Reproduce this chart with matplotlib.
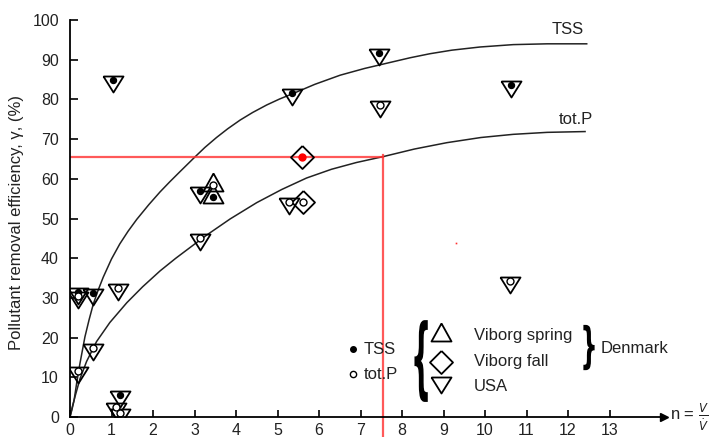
import matplotlib
matplotlib.use('Agg')
import matplotlib.pyplot as plt
from matplotlib.textpath import TextPath
from matplotlib.patches import PathPatch
from matplotlib.font_manager import FontProperties
from matplotlib.transforms import Affine2D

plt.rcParams['font.family'] = ['Liberation Sans', 'DejaVu Sans']

# curves
tss_curve_x = [0, 0.05, 0.1, 0.16, 0.24, 0.36, 0.46, 0.56, 0.68, 0.8, 1.0, 1.2, 1.4, 1.61,
               1.9, 2.17, 2.4, 2.65, 3.01, 3.25, 3.53, 3.8, 4.1, 4.4, 4.74, 5.05, 5.38, 5.9,
               6.51, 7.1, 7.71, 8.2, 8.67, 9.2, 9.88, 10.68, 11.5, 12.45]
tss_curve_y = [0, 2.0, 4.3, 8.5, 13.5, 20.2, 24.5, 28.4, 32.0, 35.2, 39.8, 43.6, 46.8, 49.8,
               53.5, 56.7, 59.2, 61.8, 65.5, 67.9, 70.4, 72.6, 74.8, 76.7, 78.6, 80.1, 81.5,
               83.8, 86.1, 87.8, 89.3, 90.5, 91.5, 92.4, 93.2, 93.8, 94.0, 94.0]
totp_curve_x = [0, 0.05, 0.12, 0.24, 0.4, 0.64, 0.96, 1.37, 1.75, 2.17, 2.55, 2.97, 3.29,
                3.86, 4.5, 5.1, 5.7, 6.3, 6.9, 7.55, 8.3, 9.08, 9.9, 10.68, 11.5, 12.41]
totp_curve_y = [0, 2.3, 5.1, 9.6, 14.0, 19.0, 23.8, 28.8, 32.8, 36.8, 40.0, 43.3, 45.8,
                49.9, 54.0, 57.3, 60.2, 62.4, 64.1, 65.6, 67.5, 69.1, 70.4, 71.2, 71.7, 71.9]

# USA points
usa_tss_x = [0.2, 0.56, 1.04, 1.2, 3.13, 5.34, 7.45, 10.62]
usa_tss_y = [31.6, 31.3, 85.0, 5.5, 57.0, 81.5, 91.6, 83.6]
usa_totp_x = [0.2, 0.2, 0.56, 1.16, 1.12, 1.2, 3.13, 5.28, 7.47, 10.6]
usa_totp_y = [30.5, 11.6, 17.3, 32.4, 2.6, 1.0, 45.0, 54.1, 78.6, 34.3]
# Viborg spring
spring_tss_x = [3.45]
spring_tss_y = [55.5]
spring_totp_x = [3.45]
spring_totp_y = [58.5]
# Viborg fall
fall_tss_x = [5.6]
fall_tss_y = [65.5]
fall_totp_x = [5.62]
fall_totp_y = [54.2]

# design point
design_n = 7.55
design_eff = 65.5
stray_x = [9.3]
stray_y = [43.8]


def ms_of(verts):
    # marker size in points for verts given in pixels (dpi 100)
    return 2 * max(abs(v) for p in verts for v in p) * 0.72


usa_m = [(-10, 4), (10, 4), (0, -12), (-10, 4)]
spring_m = [(0, 12), (-10, -6), (10, -6), (0, 12)]
fall_m = [(0, 11.5), (11.5, 0), (0, -11.5), (-11.5, 0), (0, 11.5)]
usa_leg = [(-10, 8), (10, 8), (0, -8), (-10, 8)]

fig = plt.figure(figsize=(7.13, 4.37), dpi=100)
ax = fig.add_axes([70 / 713, 20 / 437, 593.5 / 713, 397 / 437])
ax.set_xlim(0, 14.3)
ax.set_ylim(0, 100)

ax.plot(tss_curve_x, tss_curve_y, color='#222222', lw=1.1)
ax.plot(totp_curve_x, totp_curve_y, color='#222222', lw=1.1)

# red guide lines
ax.plot([0, design_n], [design_eff, design_eff], color='#ff3030', lw=1.6, alpha=0.8)
ax.plot([design_n, design_n], [-6, design_eff + 0.5], color='#ff3030', lw=1.6, alpha=0.8,
        clip_on=False)
ax.plot(stray_x, stray_y, 's', color='#ff3030', ms=1.2, mew=0)

mk = dict(linestyle='none', mfc='none', mec='black', mew=1.3)
ax.plot(usa_tss_x, usa_tss_y, marker=usa_m, ms=ms_of(usa_m), **mk)
ax.plot(usa_totp_x, usa_totp_y, marker=usa_m, ms=ms_of(usa_m), **mk)
ax.plot(spring_tss_x, spring_tss_y, marker=spring_m, ms=ms_of(spring_m), **mk)
ax.plot(spring_totp_x, spring_totp_y, marker=spring_m, ms=ms_of(spring_m), **mk)
ax.plot(fall_tss_x, fall_tss_y, marker=fall_m, ms=ms_of(fall_m), **mk)
ax.plot(fall_totp_x, fall_totp_y, marker=fall_m, ms=ms_of(fall_m), **mk)

ax.plot(usa_tss_x + spring_tss_x, usa_tss_y + spring_tss_y, 'o', color='black', ms=4.3)
ax.plot(fall_tss_x, fall_tss_y, 'o', color='red', ms=5)
ax.plot(usa_totp_x + spring_totp_x + fall_totp_x, usa_totp_y + spring_totp_y + fall_totp_y,
        'o', mfc='white', mec='black', ms=5, mew=1.0)

# curve labels
ax.text(11.99, 97.5, 'TSS', fontsize=12, ha='center', va='center', color='#222222')
ax.text(12.2, 75.0, 'tot.P', fontsize=12, ha='center', va='center', color='#222222')

# hand-made legend
ax.plot([6.83], [17.2], 'o', color='black', ms=4, clip_on=False)
ax.plot([6.83], [10.9], 'o', mfc='white', mec='black', ms=4.5, mew=1.0, clip_on=False)
ax.text(7.08, 17.1, 'TSS', fontsize=12, va='center', color='#222222')
ax.text(7.08, 10.8, 'tot.P', fontsize=12, va='center', color='#222222')
ax.plot([8.93], [20.7], marker=spring_m, ms=ms_of(spring_m), clip_on=False, **mk)
ax.plot([8.93], [13.9], marker=fall_m, ms=ms_of(fall_m), clip_on=False, **mk)
ax.plot([8.93], [8.1], marker=usa_leg, ms=ms_of(usa_leg), clip_on=False, **mk)
ax.text(9.73, 20.6, 'Viborg spring', fontsize=12, va='center', color='#222222')
ax.text(9.73, 13.9, 'Viborg fall', fontsize=12, va='center', color='#222222')
ax.text(9.73, 7.6, 'USA', fontsize=12, va='center', color='#222222')
ax.text(12.79, 17.3, 'Denmark', fontsize=12, va='center', color='#222222')


def brace(char, x0, x1, y0, y1):
    tp = TextPath((0, 0), char, size=1, prop=FontProperties(family='DejaVu Sans', weight='bold'))
    ext = tp.get_extents()
    tr = (Affine2D().translate(-ext.x0, -ext.y0)
          .scale((x1 - x0) / ext.width, (y1 - y0) / ext.height).translate(x0, y0))
    ax.add_patch(PathPatch(tr.transform_path(tp), color='black', lw=0, clip_on=False))


brace('{', 8.30, 8.62, 3.8, 24.4)
brace('}', 12.37, 12.64, 11.8, 23.2)

# axes styling
ax.spines['top'].set_visible(False)
ax.spines['right'].set_visible(False)
ax.spines['left'].set_linewidth(1.3)
ax.spines['bottom'].set_linewidth(1.3)
ax.plot(1, 0, '>', color='black', ms=6, transform=ax.get_yaxis_transform(), clip_on=False)
ax.set_xticks(range(0, 14))
ax.set_yticks(range(0, 101, 10))
ax.tick_params(axis='x', direction='in', length=5, width=1.2, pad=4, labelsize=11.5,
               labelcolor='#222222')
ax.tick_params(axis='y', direction='in', length=6, width=1.2, pad=8, labelsize=11.5,
               labelcolor='#222222')

ax.text(14.45, 0, r'n = $\frac{V}{\dot{V}}$', fontsize=12, va='center', ha='left',
        color='#222222', clip_on=False)
fig.text(17 / 713, 1 - 222 / 437, 'Pollutant removal efficiency, γ, (%)', rotation=90,
         fontsize=12, ha='center', va='center', color='#222222')

fig.savefig('out.png', dpi=100)
